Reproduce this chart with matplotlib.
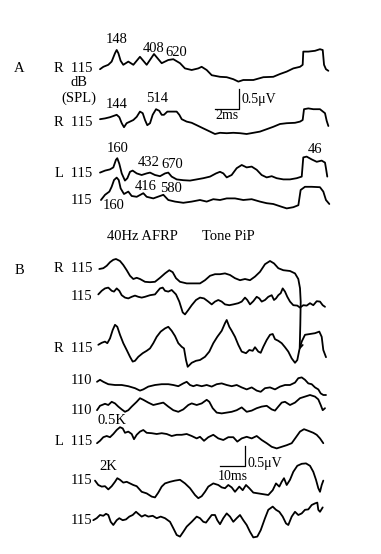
import matplotlib
matplotlib.use("Agg")
import matplotlib.pyplot as plt
import numpy as np

plt.rcParams['font.family'] = ['Liberation Serif', 'DejaVu Serif']

# ---- Panel A : tone pip responses (time ms, amplitude uV) ----
a1_t = [0, 0.28, 0.69, 0.97, 1.25, 1.39, 1.53, 1.72, 1.94, 2.36, 2.78, 3.33, 3.89, 4.5, 5.14, 5.69, 6.11,
        6.67, 7.08, 7.64, 8.19, 8.47, 8.89, 9.31, 10, 10.56, 11.11, 11.53, 11.94, 12.78, 13.61, 14.44, 15,
        15.56, 16.11, 16.67, 16.89, 16.94, 17.36, 17.92, 18.33, 18.56, 18.67, 18.83, 19.03]
a1_v = [-0.03, 0.03, 0.08, 0.16, 0.37, 0.45, 0.37, 0.18, 0.08, 0.16, 0.08, 0.28, 0.08, 0.35, 0.12, 0.2, 0.22,
        0.12, -0.01, -0.05, -0.01, 0.03, -0.05, -0.18, -0.22, -0.23, -0.28, -0.34, -0.3, -0.3, -0.23, -0.22, -0.15,
        -0.09, -0.01, 0.03, 0.08, 0.41, 0.41, 0.43, 0.47, 0.45, 0.08, -0.03, -0.07]

a2_t = [0, 0.42, 0.83, 1.11, 1.39, 1.61, 1.81, 2.0, 2.22, 2.5, 2.78, 3.06, 3.33, 3.56, 3.75, 3.94, 4.17,
        4.39, 4.67, 4.94, 5.14, 5.33, 5.61, 5.97, 6.39, 6.61, 6.81, 7.22, 7.64, 8.06, 8.61, 9.17, 9.58, 10,
        10.56, 11.11, 11.67, 12.22, 12.78, 13.33, 13.89, 14.44, 15, 15.56, 16.25, 16.67, 16.89, 17, 17.36,
        17.78, 18.33, 18.75, 18.89, 19.03]
a2_v = [0.02, 0.04, 0.07, 0.1, 0.13, 0.07, -0.08, -0.18, -0.08, -0.04, 0, 0.08, 0.21, 0.17, 0, -0.13, -0.08,
        0.13, 0.27, 0.23, 0.13, 0.13, 0.21, 0.21, 0.21, 0.13, 0.02, -0.04, -0.07, -0.13, -0.21, -0.29, -0.35, -0.32,
        -0.33, -0.32, -0.33, -0.35, -0.32, -0.29, -0.23, -0.17, -0.1, -0.08, -0.07, -0.04, 0, 0.27, 0.29,
        0.27, 0.27, 0.17, -0.02, -0.15]

a3_t = [0, 0.42, 0.83, 1.11, 1.33, 1.44, 1.61, 1.81, 2.08, 2.28, 2.5, 2.72, 3.06, 3.47, 3.89, 4.17, 4.58,
        5, 5.42, 5.69, 5.97, 6.39, 6.94, 7.5, 8.06, 8.61, 9.17, 9.67, 10, 10.28, 10.56, 10.97, 11.39, 11.81,
        12.22, 12.64, 13.06, 13.47, 13.89, 14.31, 14.72, 15.28, 15.83, 16.39, 16.81, 16.94, 17.22, 17.64,
        18.06, 18.47, 18.75, 18.83, 18.94]
a3_v = [0.01, 0.06, 0.09, 0.14, 0.33, 0.37, 0.23, -0.01, -0.19, -0.13, 0.03, 0.06, -0.01, -0.05, -0.01, 0.01, -0.05,
        -0.08, -0.01, 0.01, -0.09, -0.16, -0.18, -0.19, -0.16, -0.13, -0.09, -0.01, 0.03, -0.01, -0.11, -0.05, 0.12, 0.2,
        0.14, 0.16, 0.08, -0.05, -0.11, -0.08, -0.13, -0.16, -0.16, -0.13, -0.09, 0.39, 0.41, 0.34,
        0.28, 0.31, 0.26, 0.12, -0.09]

a4_t = [0.08, 0.42, 0.78, 0.97, 1.17, 1.39, 1.56, 1.72, 2, 2.36, 2.64, 3.06, 3.61, 3.89, 4.44, 5, 5.28,
        5.69, 6.25, 6.94, 7.64, 8.33, 8.89, 9.44, 10, 10.56, 11.25, 11.94, 12.64, 13.33, 13.89, 14.44, 15.14,
        15.56, 16.11, 16.53, 16.72, 17.08, 17.64, 18.33, 18.61, 18.83, 19.11]
a4_v = [0, 0.13, 0.21, 0.33, 0.5, 0.56, 0.5, 0.29, 0.15, 0.21, 0.1, 0.08, 0.17, 0.08, 0.04, 0.1, 0.13,
        0, -0.04, -0.07, -0.04, 0, -0.04, 0.02, 0, 0.04, 0.04, 0, 0.02, -0.04, -0.08, -0.1, -0.17,
        -0.21, -0.18, -0.13, 0.25, 0.33, 0.33, 0.32, 0.21, 0, -0.1]

# ---- Panel B : 40 Hz AFRP ----
b1_t = [0.92, 2.52, 3.88, 5.2, 6.52, 7.6, 9.2, 10.52, 11.88, 13.2, 14.52, 15.88, 17.2, 19.2, 21.2, 23.2, 25.2,
        27.2, 28.92, 30.28, 31.6, 33.2, 35.88, 38.52, 41.2, 43.2, 45.2, 47.2, 49.2, 51.2, 53.2, 55.2, 57.2,
        59.2, 61.2, 63.2, 65.2, 67.2, 69.2, 70.8, 72.52, 74.52, 77.2, 79.2, 80.52, 81.2, 81.48, 81.32, 81.08, 82.28]
b1_v = [0, 0.02, 0.08, 0.17, 0.23, 0.25, 0.2, 0.1, -0.03, -0.17, -0.25, -0.22, -0.25, -0.32, -0.33, -0.32, -0.22,
        -0.11, -0.03, -0.08, -0.23, -0.32, -0.36, -0.36, -0.36, -0.28, -0.17, -0.13, -0.13, -0.11, -0.15, -0.23, -0.28,
        -0.25, -0.28, -0.19, -0.07, 0.12, 0.2, 0.14, 0.02, -0.03, -0.05, -0.11, -0.25, -0.48, -0.82, -1.4, -1.98, -1.9]

b2_t = [0.52, 1.88, 3.2, 4.52, 5.88, 6.8, 7.88, 8.92, 9.88, 11.2, 12.52, 13.88, 15.2, 16.52, 17.88, 19.2, 21.2,
        23.2, 24.12, 25.2, 26.28, 27.2, 28.52, 29.88, 31.6, 32.92, 34.28, 35.2, 36.52, 37.88, 39.6, 41.2, 42.8,
        44.52, 45.88, 47.2, 48.52, 49.88, 51.2, 52.92, 54.52, 56.52, 57.88, 59.2, 60.12, 61.2, 62.52, 63.88,
        64.92, 65.88, 67.2, 68.52, 69.88, 70.8, 71.6, 72.52, 73.48, 74.28, 75.2, 76.12, 77.2, 78.52, 80.12,
        81.2, 82.52, 83.88, 85.2, 86.52, 87.88, 89.2, 90.28, 91.2]
b2_v = [-0.01, 0.08, 0.14, 0.16, 0.08, 0.06, 0.14, 0.08, -0.03, -0.09, -0.11, -0.07, -0.04, -0.07, -0.09, -0.07, -0.03,
        -0.01, 0.06, 0.14, 0.16, 0.08, 0.06, 0.1, -0.01, -0.19, -0.46, -0.51, -0.4, -0.28, -0.15, -0.09, -0.11,
        -0.19, -0.26, -0.19, -0.15, -0.19, -0.26, -0.28, -0.26, -0.23, -0.19, -0.09, -0.15, -0.26, -0.18, -0.07,
        -0.11, -0.19, -0.15, -0.07, -0.03, -0.15, -0.11, -0.03, 0.02, 0.14, 0.06, -0.07, -0.19, -0.28, -0.29,
        -0.34, -0.28, -0.29, -0.23, -0.28, -0.18, -0.19, -0.28, -0.32]

b3_t = [0.52, 1.88, 3.2, 4.12, 5.2, 6.28, 7.2, 8.12, 9.2, 10.52, 11.88, 13.2, 14.28, 15.2, 16.52, 18.28, 19.88,
        21.2, 22.52, 23.88, 25.48, 27.2, 28.52, 29.88, 31.2, 32.52, 33.88, 34.8, 35.6, 36.28, 37.88, 39.6, 41.2,
        43.2, 44.92, 46.52, 48.12, 49.88, 51.2, 51.88, 52.92, 53.88, 55.2, 56.52, 57.88, 59.6, 60.92, 62.28,
        63.2, 64.52, 65.48, 66.52, 67.88, 69.2, 70.28, 71.2, 72.52, 73.88, 75.2, 76.52, 77.88, 79.2, 80.12,
        80.92, 81.88, 83.2, 85.2, 87.2, 88.92, 89.88, 90.52, 91.6]
b3_v = [0.03, 0.08, 0.11, 0.07, 0.19, 0.4, 0.53, 0.48, 0.28, 0.07, -0.1, -0.27, -0.39, -0.37, -0.27, -0.18, -0.12,
        -0.06, 0.07, 0.23, 0.36, 0.44, 0.48, 0.38, 0.25, 0.07, -0.02, -0.06, -0.35, -0.52, -0.42, -0.37, -0.35,
        -0.27, -0.14, 0.07, 0.23, 0.38, 0.57, 0.65, 0.48, 0.38, 0.23, 0.03, -0.14, -0.18, -0.1, -0.12,
        -0.03, -0.14, -0.17, -0.02, 0.15, 0.28, 0.3, 0.17, 0.13, 0.07, -0.03, -0.14, -0.31, -0.42, -0.35,
        -0.1, 0.11, 0.28, 0.3, 0.32, 0.36, 0.23, -0.1, -0.28]

b4_t = [0, 1.2, 2.52, 4.52, 7.2, 9.88, 12.52, 15.2, 17.2, 18.52, 20.52, 23.2, 25.88, 28.52, 30.52, 32.52, 34.52,
        35.88, 37.2, 38.52, 39.88, 41.88, 43.88, 45.88, 47.88, 49.88, 51.88, 53.88, 55.88, 57.88, 59.88, 61.88,
        63.88, 65.48, 67.2, 69.2, 71.2, 73.2, 75.2, 77.2, 79.2, 80.52, 81.88, 83.2, 84.52, 85.88, 87.2, 88.52,
        89.48, 90.52, 91.6]
b4_v = [-0.02, 0.03, -0.02, -0.08, -0.1, -0.1, -0.13, -0.18, -0.24, -0.21, -0.14, -0.1, -0.08, -0.08, -0.1, -0.13, -0.06,
        -0.02, -0.1, -0.13, -0.1, -0.13, -0.1, -0.14, -0.08, -0.06, -0.1, -0.13, -0.1, -0.16, -0.21, -0.16,
        -0.24, -0.27, -0.18, -0.16, -0.21, -0.14, -0.1, -0.1, -0.04, 0.07, 0.09, 0.03, -0.06, -0.08, -0.16, -0.21,
        -0.31, -0.35, -0.35]

b5_t = [0, 1.2, 3.2, 4.52, 5.88, 7.2, 8.52, 9.88, 11.2, 12.52, 13.88, 15.88, 17.2, 18.52, 20.52, 22.52, 24.52,
        26.52, 28.52, 30.52, 32.52, 34.52, 36.52, 37.88, 39.88, 41.88, 43.88, 44.92, 46.28, 47.88, 49.88, 51.88,
        53.88, 55.88, 57.88, 59.88, 61.88, 63.88, 65.88, 67.88, 69.88, 71.2, 72.52, 73.88, 75.2, 77.2, 79.2,
        81.2, 83.2, 85.2, 87.2, 88.52, 89.48, 90.28, 91.2]
b5_v = [-0.03, 0.08, 0.13, 0.1, 0.18, 0.14, 0.06, -0.01, -0.07, -0.03, 0.06, 0.18, 0.27, 0.23, 0.16, 0.1, 0.13,
        0.16, 0.06, -0.03, -0.07, -0.01, 0.1, 0.14, 0.1, 0.14, 0.23, 0.18, 0.02, -0.09, -0.11, -0.09,
        -0.07, -0.03, 0.04, -0.07, -0.04, 0.02, 0.06, 0.08, -0.01, -0.04, 0.06, 0.16, 0.18, 0.1, 0.16,
        0.27, 0.31, 0.35, 0.31, 0.24, 0.1, -0.03, 0.02]

b6_t = [0, 1.2, 2.52, 3.88, 5.2, 6.52, 7.88, 9.2, 10.28, 11.2, 12.52, 13.88, 14.8, 15.88, 17.2, 18.52, 19.88,
        21.88, 23.88, 25.88, 27.88, 29.88, 31.88, 33.88, 35.88, 37.88, 39.88, 41.2, 42.8, 44.52, 46.52, 48.52,
        50.52, 52.52, 54.52, 56.12, 57.88, 59.88, 61.88, 63.88, 65.88, 67.88, 69.88, 71.88, 73.88, 75.88,
        77.88, 79.6, 81.2, 82.8, 84.52, 86.52, 87.88, 89.2, 90.52]
b6_v = [-0.03, 0.03, 0.12, 0.15, 0.12, 0.2, 0.3, 0.37, 0.34, 0.23, 0.26, 0.2, 0.07, 0.18, 0.26, 0.3, 0.23,
        0.22, 0.2, 0.22, 0.2, 0.15, 0.18, 0.18, 0.2, 0.15, 0.09, 0.13, 0.03, 0.12, 0.18, 0.09,
        0.05, 0.12, 0.12, 0.01, 0.09, 0.13, 0.09, 0.15, 0.05, -0.03, -0.12, -0.16, -0.12, -0.08,
        -0.03, 0.12, 0.26, 0.32, 0.28, 0.23, 0.18, 0.09, -0.03]

b7_t = [-0.8, 0.52, 1.88, 3.2, 4.52, 5.88, 7.2, 8.12, 9.2, 10.52, 11.88, 13.2, 14.52, 15.88, 17.88, 19.88, 21.88,
        23.2, 24.52, 25.88, 27.2, 29.2, 31.2, 33.2, 35.2, 37.2, 39.2, 40.52, 41.88, 43.2, 44.52, 46.52, 48.52,
        49.88, 51.2, 52.52, 53.88, 55.2, 56.92, 58.28, 59.6, 60.92, 62.52, 64.52, 66.52, 68.52, 70.28, 71.6,
        72.92, 73.88, 74.8, 75.88, 77.2, 78.52, 80.12, 81.88, 83.6, 85.2, 86.52, 87.6, 88.52, 89.2, 89.88, 90.52]
b7_v = [0.01, -0.1, -0.14, -0.13, -0.21, -0.13, -0.02, 0.07, 0.03, -0.04, -0.02, -0.06, -0.1, -0.13, -0.27, -0.31, -0.39,
        -0.41, -0.29, -0.14, -0.06, -0.02, 0.01, 0.03, -0.06, -0.18, -0.35, -0.43, -0.38, -0.27, -0.14, -0.06, -0.1,
        -0.16, -0.18, -0.1, -0.16, -0.27, -0.14, -0.23, -0.1, -0.18, -0.29, -0.31, -0.33, -0.35, -0.23, -0.06,
        -0.14, -0.02, 0.07, -0.1, 0.03, 0.23, 0.38, 0.43, 0.44, 0.38, 0.23, 0.03, -0.18, -0.27, -0.1, 0.01]

b8_t = [-1.48, -0.12, 1.2, 2.52, 3.6, 4.52, 5.48, 6.52, 7.88, 8.92, 10.28, 11.6, 12.92, 14.28, 15.6, 16.52, 17.88,
        19.2, 20.52, 22.28, 23.88, 25.48, 27.2, 29.2, 30.52, 31.88, 33.2, 34.52, 35.88, 37.88, 39.88, 41.2, 42.52,
        43.6, 44.92, 45.88, 47.2, 48.12, 49.2, 50.52, 51.88, 53.2, 54.52, 55.88, 57.2, 58.52, 59.88, 61.2,
        62.52, 64.12, 65.48, 67.2, 68.52, 70.28, 71.6, 72.92, 74.28, 75.6, 76.52, 77.88, 79.2, 80.52, 81.88,
        83.2, 84.52, 85.88, 87.2, 88.12, 88.52, 89.2, 90.28]
b8_v = [-0.03, 0.02, 0.1, 0.08, 0.13, 0.1, -0.07, -0.15, -0.03, 0.02, -0.03, -0.01, 0.06, 0.1, 0.18, 0.13, 0.06,
        0.1, 0.06, 0.08, 0.02, 0.06, 0.02, -0.07, -0.23, -0.4, -0.44, -0.32, -0.19, -0.07, 0.06, 0.02, -0.07,
        -0.09, 0.02, 0.1, 0.1, -0.03, -0.13, 0.02, 0.14, 0.06, -0.07, 0.02, 0.1, -0.03, -0.15, -0.32,
        -0.46, -0.44, -0.28, 0.02, 0.23, 0.31, 0.23, 0.18, 0.06, -0.11, -0.15, 0.06, 0.18, 0.1, 0.14,
        0.23, 0.24, 0.35, 0.39, 0.41, 0.23, 0.18, 0.29]

# ---- layout (canvas is in pixel units of the scan) ----
UV = 40.0            # px per uV
A_MS, A_X0 = 12.0, 100
B_MS, B_X0 = 2.5, 97

fig = plt.figure(figsize=(3.81, 5.54), dpi=100)
ax = fig.add_axes([0, 0, 1, 1])
ax.set_xlim(0, 381)
ax.set_ylim(554, 0)
ax.axis('off')


def trace(t, v, x0, y0, ms):
    x = x0 + np.array(t) * ms
    y = y0 - np.array(v) * UV
    ax.plot(x, y, color='black', lw=1.3, solid_joinstyle='round', solid_capstyle='round')


for t, v, y0 in [(a1_t, a1_v, 68), (a2_t, a2_v, 120), (a3_t, a3_v, 173), (a4_t, a4_v, 200)]:
    trace(t, v, A_X0, y0, A_MS)
for t, v, y0 in [(b1_t, b1_v, 269), (b2_t, b2_v, 294), (b3_t, b3_v, 346), (b4_t, b4_v, 381),
                 (b5_t, b5_v, 409), (b6_t, b6_v, 442), (b7_t, b7_v, 481), (b8_t, b8_v, 519)]:
    trace(t, v, B_X0, y0, B_MS)


def scale_bar(xc, yc, ms, ms_px, xlabel, yl_x, yl_y, xl_y):
    ax.plot([xc - ms * ms_px, xc, xc], [yc, yc, yc - 0.5 * UV], color='black', lw=0.9)
    ax.text(yl_x, yl_y, '0.5μV', ha='left', va='center', fontsize=10)
    ax.text(xc - ms * ms_px / 2, xl_y, xlabel, ha='center', va='center', fontsize=10)


scale_bar(238.5, 108.5, 2, A_MS, '2ms', 242, 100, 115.5)
scale_bar(245, 466, 10, B_MS, '10ms', 248, 463, 477)

fs = 10.5
txt = [
    (19, 69, 'A', 'center'), (19, 270, 'B', 'center'),
    (92, 68, 'R  115', 'right'), (79, 82, 'dB', 'center'), (79, 98, '(SPL)', 'center'),
    (92, 122, 'R  115', 'right'), (92, 173.5, 'L  115', 'right'), (92, 201, '115', 'right'),
    (92, 268.5, 'R  115', 'right'), (92, 296, '115', 'right'), (92, 348.5, 'R  115', 'right'),
    (92, 380, '110', 'right'), (92, 410.5, '110', 'right'), (92, 441.5, 'L  115', 'right'),
    (92, 481, '115', 'right'), (92, 520, '115', 'right'),
    (117, 39.5, '148', 'center'), (153.5, 49, '408', 'center'), (176.5, 52, '620', 'center'),
    (116.5, 104, '144', 'center'), (157.5, 99, '514', 'center'),
    (117.5, 149, '160', 'center'), (149, 162, '432', 'center'), (172.5, 165, '670', 'center'),
    (314.5, 149.5, '46', 'center'), (146, 187, '416', 'center'), (171, 189, '580', 'center'),
    (113.5, 205.5, '160', 'center'),
    (142, 236, '40Hz AFRP', 'center'), (228.5, 236, 'Tone PiP', 'center'),
    (111.5, 420, '0.5K', 'center'), (108, 466.5, '2K', 'center'),
]
for x, y, s, ha in txt:
    ax.text(x, y, s, ha=ha, va='center', fontsize=fs)

fig.savefig('out.png', dpi=100)
